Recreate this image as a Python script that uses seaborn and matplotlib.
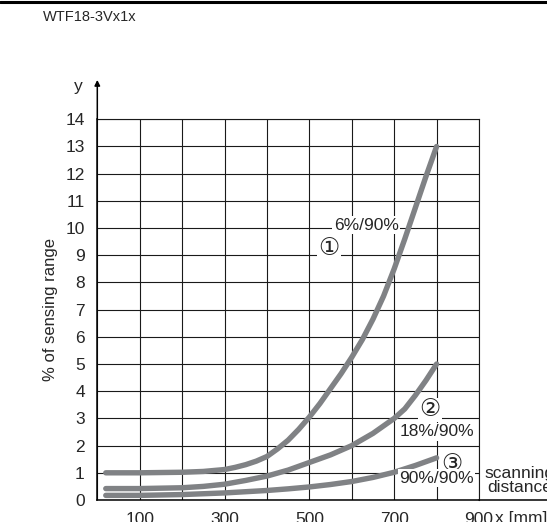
import numpy as np
import pandas as pd
import matplotlib
matplotlib.use('Agg')
import matplotlib.pyplot as plt
from matplotlib.lines import Line2D
import seaborn as sns

sns.set_style('white')
plt.rcParams['font.family'] = ['Liberation Sans', 'DejaVu Sans']

# Curve data (x = scanning distance mm, y = % of sensing range)
dist_6 = [20, 100, 200, 250, 300, 325, 350, 375, 400, 425, 450, 475, 500, 525, 550,
          575, 600, 625, 650, 675, 700, 725, 750, 775, 800]
curve_6 = [1.0, 1.0, 1.02, 1.05, 1.12, 1.2, 1.3, 1.43, 1.6, 1.88, 2.2, 2.6, 3.05, 3.55, 4.1,
           4.65, 5.25, 5.9, 6.65, 7.5, 8.5, 9.6, 10.75, 11.9, 13.0]
dist_18 = [20, 100, 200, 250, 300, 350, 400, 450, 500, 550, 600, 650, 700, 725, 750, 775, 800]
curve_18 = [0.42, 0.42, 0.45, 0.5, 0.58, 0.72, 0.88, 1.1, 1.38, 1.66, 2.0, 2.45, 3.0, 3.35,
            3.85, 4.4, 5.0]
dist_90 = [20, 100, 200, 300, 400, 450, 500, 550, 600, 650, 700, 750, 800]
curve_90 = [0.17, 0.17, 0.2, 0.26, 0.35, 0.41, 0.48, 0.57, 0.68, 0.83, 1.02, 1.27, 1.55]

x_ticks = list(range(0, 1000, 100))
x_labels = ['', '100', '', '300', '', '500', '', '700', '', '900']
y_ticks = list(range(0, 15))

W, H = 547, 522
fig = plt.figure(figsize=(W / 100, H / 100), dpi=100)
ax = fig.add_axes([97.3 / W, (H - 500) / H, (479 - 97.3) / W, (500 - 119.3) / H])

gray = '#808285'
for xs, ys in [(dist_6, curve_6), (dist_18, curve_18), (dist_90, curve_90)]:
    df = pd.DataFrame({'x': xs, 'y': ys})
    sns.lineplot(data=df, x='x', y='y', ax=ax, color=gray, linewidth=3.9,
                 solid_capstyle='round', solid_joinstyle='round', zorder=3)

ax.set_xlim(0, 900)
ax.set_ylim(0, 14)
ax.set_xticks(x_ticks)
ax.set_xticklabels(x_labels, fontsize=12.5)
ax.set_yticks(y_ticks)
ax.set_yticklabels([str(v) for v in y_ticks], fontsize=12.5)
ax.tick_params(axis='both', length=0)
ax.tick_params(axis='x', pad=9)
ax.tick_params(axis='y', pad=9)
ax.grid(True, color='#1a1a1a', linewidth=0.8)
ax.set_axisbelow(True)
for s in ['top', 'right']:
    ax.spines[s].set_color('#1a1a1a')
    ax.spines[s].set_linewidth(0.8)
for s in ['left', 'bottom']:
    ax.spines[s].set_color('black')
    ax.spines[s].set_linewidth(1.1)
ax.set_xlabel('')
ax.set_ylabel('% of sensing range', fontsize=12, labelpad=5)

# extended x axis and y arrow
ax.plot([900, 1100], [0, 0], color='black', linewidth=1.1, clip_on=False)
ax.annotate('', xy=(0, 15.55), xytext=(0, 13.9),
            arrowprops=dict(arrowstyle='-|>', color='black', lw=1.1, mutation_scale=8),
            annotation_clip=False)
ax.text(-45, 15.2, 'y', fontsize=12.5, ha='center', va='center')
ax.text(938, -0.42, 'x [mm]', fontsize=12.5, ha='left', va='top', clip_on=False)

box = dict(facecolor='white', edgecolor='none', pad=1.0)
ax.text(634, 10.1, '6%/90%', fontsize=12.5, ha='center', va='center', bbox=box, zorder=4)
ax.text(546, 9.22, '①', fontsize=17, ha='center', va='center', bbox=box, zorder=4)
ax.text(784, 3.31, '②', fontsize=17, ha='center', va='center', bbox=box, zorder=4)
ax.text(800, 2.51, '18%/90%', fontsize=12.5, ha='center', va='center', bbox=box, zorder=4)
ax.text(836, 1.29, '③', fontsize=17, ha='center', va='center', bbox=box, zorder=4)
ax.text(800, 0.80, '90%/90%', fontsize=12.5, ha='center', va='center', bbox=box, zorder=4)
ax.text(912, 0.98, 'scanning', fontsize=12.5, ha='left', va='center', clip_on=False)
ax.text(920, 0.45, 'distance', fontsize=12.5, ha='left', va='center', clip_on=False)

# header
fig.add_artist(Line2D([0, 1], [1 - 1.5 / H, 1 - 1.5 / H], color='black', linewidth=2.2))
fig.text(42.7 / W, 1 - 16.7 / H, 'WTF18-3Vx1x', fontsize=10.5, ha='left', va='center',
         family=['Liberation Sans Narrow', 'Liberation Sans', 'DejaVu Sans'])

fig.savefig('out.png', dpi=100)
